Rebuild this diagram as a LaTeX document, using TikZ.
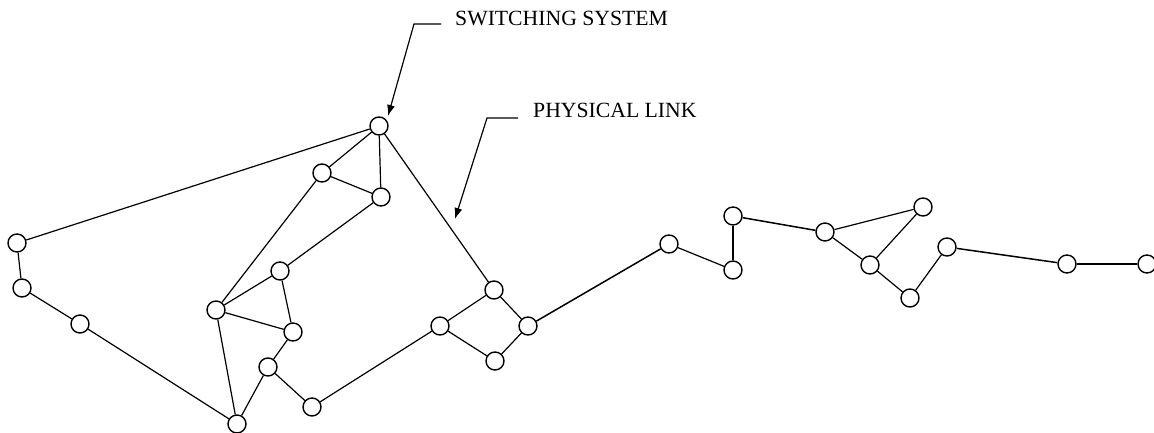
\documentclass[tikz,border=0pt]{standalone}
\usepackage{fontspec}
\setmainfont{Liberation Serif}
\usetikzlibrary{arrows.meta}
\begin{document}
\begin{tikzpicture}[x=1pt,y=-1pt,
  sw/.style={circle,draw,line width=1.4pt,minimum size=18pt,inner sep=0pt,fill=white},
  lnk/.style={line width=1.2pt},
  thick lnk/.style={line width=1.5pt},
  lbl/.style={font=\fontsize{21.7}{24}\selectfont,anchor=base west,inner sep=0pt},
  lead/.style={line width=1.2pt,-{Latex[length=11pt,width=8pt]}}]
\useasboundingbox (0,0) rectangle (1154,433);
% nodes
\node[sw] (A) at (379,126) {};
\node[sw] (B) at (322,173) {};
\node[sw] (C) at (381,197) {};
\node[sw] (D) at (17,243) {};
\node[sw] (E) at (22,288) {};
\node[sw] (F) at (80,324) {};
\node[sw] (G) at (280,271) {};
\node[sw] (H) at (216,310) {};
\node[sw] (I) at (293,332) {};
\node[sw] (J) at (268,367) {};
\node[sw] (K) at (237,424) {};
\node[sw] (L) at (312,407) {};
\node[sw] (M) at (440,326) {};
\node[sw] (N) at (494,290) {};
\node[sw] (O) at (528,326) {};
\node[sw] (P) at (495,361) {};
\node[sw] (Q) at (669,244) {};
\node[sw] (R) at (733,270) {};
\node[sw] (S) at (733,216) {};
\node[sw] (T) at (825,232) {};
\node[sw] (U) at (923,207) {};
\node[sw] (V) at (870,265) {};
\node[sw] (W) at (910,298) {};
\node[sw] (X) at (947,247) {};
\node[sw] (Y) at (1067,264) {};
\node[sw] (Z) at (1147,264) {};
% links
\draw[lnk] (A) -- (D);
\draw[lnk] (A) -- (B);
\draw[lnk] (A) -- (C);
\draw[lnk] (B) -- (C);
\draw[lnk] (A) -- (N);
\draw[lnk] (B) -- (H);
\draw[lnk] (C) -- (G);
\draw[lnk] (D) -- (E);
\draw[lnk] (E) -- (F);
\draw[lnk] (F) -- (K);
\draw[lnk] (G) -- (H);
\draw[lnk] (G) -- (I);
\draw[lnk] (H) -- (I);
\draw[lnk] (H) -- (K);
\draw[lnk] (I) -- (J);
\draw[lnk] (J) -- (K);
\draw[lnk] (J) -- (L);
\draw[lnk] (L) -- (M);
\draw[lnk] (M) -- (N);
\draw[lnk] (M) -- (P);
\draw[lnk] (N) -- (O);
\draw[lnk] (O) -- (P);
\draw[thick lnk] (O) -- (Q);
\draw[lnk] (Q) -- (R);
\draw[lnk] (R) -- (S);
\draw[thick lnk] (S) -- (T);
\draw[lnk] (T) -- (U);
\draw[lnk] (T) -- (V);
\draw[lnk] (U) -- (V);
\draw[lnk] (V) -- (W);
\draw[lnk] (W) -- (X);
\draw[thick lnk] (X) -- (Y);
\draw[lnk] (Y) -- (Z);
% labels
\node[lbl] (sslbl) at (455,26) {SWITCHING SYSTEM};
\node[lbl] (pllbl) at (533,118) {PHYSICAL LINK};
\coordinate (ss1) at (441,24);
\coordinate (ss2) at (414,24);
\coordinate (sstip) at (388,116);
\coordinate (pl1) at (518,118);
\coordinate (pl2) at (487,118);
\coordinate (pltip) at (455,219);
\draw[lead] (ss1) -- (ss2) -- (sstip);
\draw[lead] (pl1) -- (pl2) -- (pltip);
\end{tikzpicture}
\end{document}
